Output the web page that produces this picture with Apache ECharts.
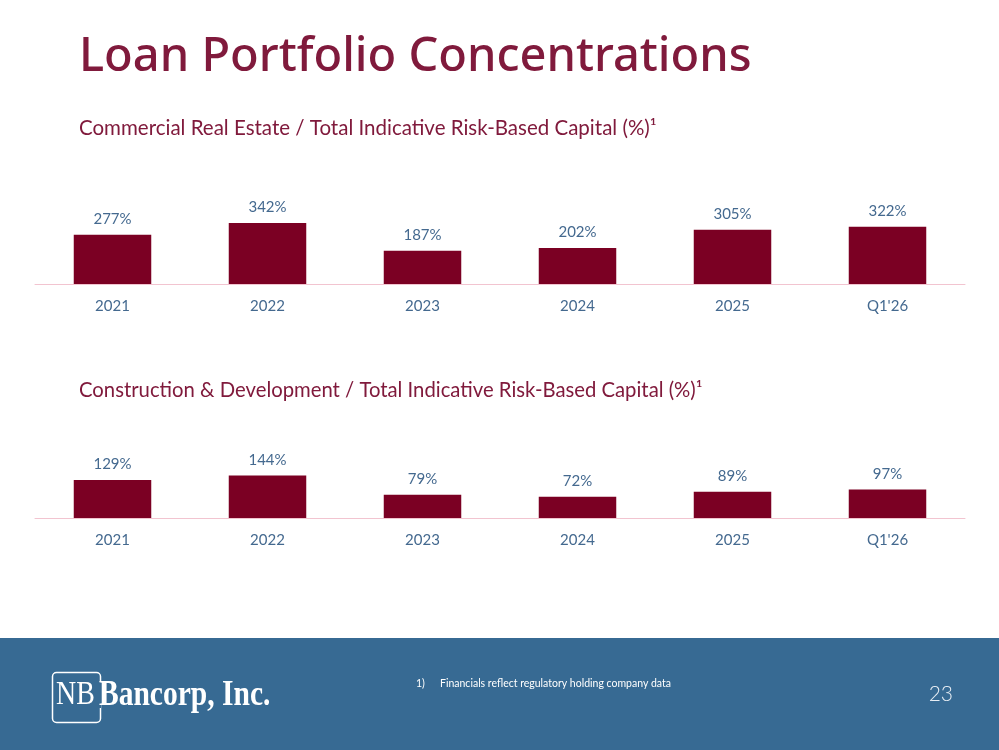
<!DOCTYPE html>
<html>
<head>
<meta charset="utf-8">
<title>Loan Portfolio Concentrations</title>
<script src="https://cdn.jsdelivr.net/npm/echarts@6/dist/echarts.min.js"></script>
<style>
    html, body { margin: 0; padding: 0; background: #fff; }
    #main { width: 999px; height: 750px; }
</style>
</head>
<body>
<div id="main"></div>
<script>
// data
var periods = ['2021', '2022', '2023', '2024', '2025', "Q1'26"];
var creValues = [277, 342, 187, 202, 305, 322];
var cdValues = [129, 144, 79, 72, 89, 97];

var barColor = '#7b0023';
var labelColor = '#44698f';
var maroon = '#801a3c';
var footerBlue = '#376a93';

function xAxisFor(gridIndex) {
    return {
        type: 'category',
        gridIndex: gridIndex,
        data: periods,
        axisLine: { lineStyle: { color: '#f2c4d0', width: 1 } },
        axisTick: { show: false },
        axisLabel: { color: labelColor, fontFamily: 'Lato', fontSize: 15, margin: 15 }
    };
}

function yAxisFor(gridIndex, max) {
    return {
        type: 'value',
        gridIndex: gridIndex,
        min: 0,
        max: max,
        show: false,
        splitLine: { show: false }
    };
}

function barSeries(axisIndex, values) {
    return {
        type: 'bar',
        xAxisIndex: axisIndex,
        yAxisIndex: axisIndex,
        data: values,
        barWidth: '50%',
        itemStyle: { color: barColor },
        label: {
            show: true,
            position: 'top',
            distance: 8,
            formatter: '{c}%',
            color: labelColor,
            fontFamily: 'Lato',
            fontSize: 15
        },
        silent: true
    };
}

var option = {
    animation: false,
    backgroundColor: '#fff',
    grid: [
        { left: 35, width: 930, top: 195, height: 89 },
        { left: 35, width: 930, top: 459, height: 59 }
    ],
    xAxis: [xAxisFor(0), xAxisFor(1)],
    yAxis: [yAxisFor(0, 500), yAxisFor(1, 200)],
    series: [barSeries(0, creValues), barSeries(1, cdValues)],
    graphic: [
        {
            type: 'text', left: 79, top: 34,
            style: { text: 'Loan Portfolio Concentrations', fill: maroon, font: '500 47px "Noto Sans"' }
        },
        {
            type: 'text', left: 79, top: 118,
            style: { text: 'Commercial Real Estate / Total Indicative Risk-Based Capital (%)\u00b9', fill: maroon, font: '20.5px Lato' }
        },
        {
            type: 'text', left: 79, top: 380,
            style: { text: 'Construction & Development / Total Indicative Risk-Based Capital (%)\u00b9', fill: maroon, font: '20.3px Lato' }
        },
        // footer band
        {
            type: 'rect', left: 0, top: 638, z: -1,
            shape: { width: 999, height: 112 },
            style: { fill: footerBlue }
        },
        // logo frame, open on the right where the name starts
        {
            type: 'rect', left: 50, top: 670,
            shape: { width: 48, height: 50, r: 4 },
            style: { fill: 'none', stroke: '#fff', lineWidth: 1.5 }
        },
        {
            type: 'rect', left: 95, top: 682,
            shape: { width: 6, height: 26 },
            style: { fill: footerBlue }
        },
        {
            type: 'text', x: 56, y: 695, scaleX: 0.82,
            style: { text: 'NB', fill: '#fff', font: '34px "Liberation Serif"', verticalAlign: 'middle' }
        },
        {
            type: 'text', x: 99, y: 696, scaleX: 0.82,
            style: { text: 'Bancorp, Inc.', fill: '#fff', font: 'bold 36px "Liberation Serif"', verticalAlign: 'middle' }
        },
        {
            type: 'text', left: 416, top: 678,
            style: { text: '1)', fill: '#fff', font: '10.5px Lato' }
        },
        {
            type: 'text', left: 440, top: 678,
            style: { text: 'Financials reflect regulatory holding company data', fill: '#fff', font: '10.5px Lato' }
        },
        {
            type: 'text', right: 46, top: 684,
            style: { text: '23', fill: '#e8eef4', font: '300 21px Lato' }
        }
    ]
};

var chart = echarts.init(document.getElementById('main'));
chart.setOption(option);
window.addEventListener('resize', function () {
    chart.resize();
});
</script>
</body>
</html>
